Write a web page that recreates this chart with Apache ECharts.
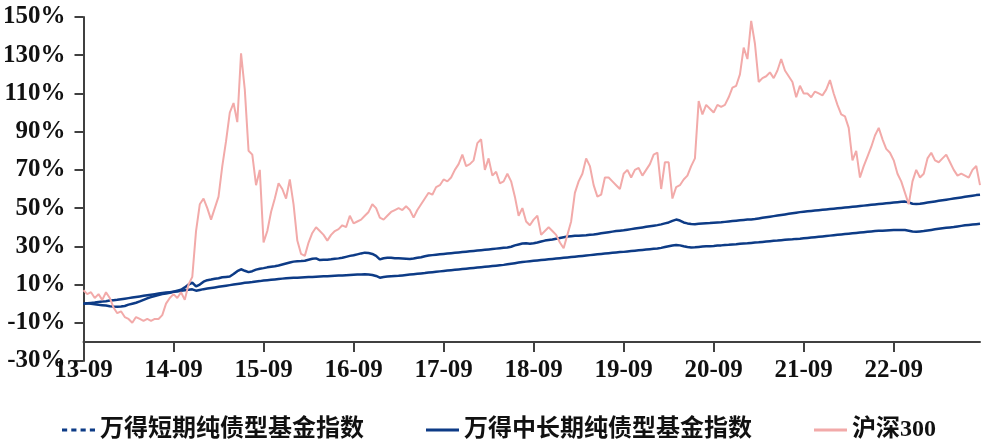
<!DOCTYPE html>
<html>
<head>
<meta charset="utf-8">
<script src="https://cdn.jsdelivr.net/npm/echarts@6/dist/echarts.min.js"></script>
<style>
html,body{margin:0;padding:0;background:#fff;}
#chart{width:989px;height:448px;}
</style>
</head>
<body>
<div id="chart"></div>
<script>
// Semi-monthly observations from 2013-09 to 2023-08
const seriesNames = ['万得短期纯债型基金指数', '万得中长期纯债型基金指数', '沪深300'];

const shortBond = [
  0,0.2,0.4,0.6,0.9,1.1,1.3,1.6,1.8,2,2.3,2.6,2.9,3.2,3.5,3.8,4.1,4.4,4.7,5,5.3,5.6,5.8,6,6.2,
  6.4,6.7,7,7.3,7.5,6.8,7.2,7.6,7.9,8.2,8.5,8.8,9.1,9.4,9.7,10,10.3,10.6,10.9,11.1,11.3,11.6,11.8,12.1,
  12.3,12.5,12.7,12.9,13.1,13.3,13.4,13.5,13.6,13.7,13.8,13.9,14,14.1,14.2,14.3,14.4,14.5,14.6,14.7,14.8,14.9,15,15.1,
  15.2,15.3,15.4,15.3,15,14.5,13.6,14,14.2,14.4,14.5,14.6,14.8,15,15.2,15.4,15.6,15.8,16,16.3,16.5,16.7,16.9,17.1,
  17.3,17.5,17.7,17.9,18.1,18.3,18.5,18.7,18.9,19.1,19.3,19.5,19.7,19.9,20.1,20.3,20.6,20.9,21.2,21.5,21.8,22,22.2,22.4,
  22.6,22.8,23,23.2,23.4,23.6,23.8,24,24.2,24.4,24.6,24.8,25,25.2,25.4,25.6,25.8,26,26.2,26.4,26.6,26.8,27,27.1,
  27.3,27.5,27.7,27.9,28.1,28.3,28.5,28.7,28.9,29.2,29.6,30,30.4,30.7,30.5,30,29.6,29.4,29.5,29.7,29.9,30,30.1,30.2,
  30.4,30.5,30.7,30.8,31,31.1,31.3,31.5,31.6,31.8,32,32.1,32.3,32.5,32.7,32.9,33,33.2,33.4,33.6,33.7,33.9,34,34.2,
  34.4,34.6,34.8,35,35.2,35.4,35.6,35.8,36,36.2,36.4,36.6,36.8,37,37.2,37.4,37.6,37.8,38,38.1,38.2,38.3,38.4,38.5,
  38.6,38.6,38.5,38.2,37.8,37.6,37.8,38,38.3,38.6,38.9,39.2,39.5,39.7,39.9,40.1,40.4,40.7,41,41.2,41.4,41.6,41.8
];

const midLongBond = [
  0,0.2,0,-0.3,-0.6,-0.8,-1,-1.3,-1.5,-1.6,-1.5,-1.2,-0.5,0,0.5,1.2,2,2.8,3.4,4,4.5,5,5.3,5.7,6.2,
  6.8,7.3,8.5,10,11,9,10,11.5,12.3,12.6,13,13.3,13.8,14,14.2,15.5,17,18,17.2,16.5,17,17.8,18.3,18.6,
  19,19.3,19.6,20,20.5,21,21.5,22,22.2,22.3,22.5,23,23.5,23.7,22.8,23,23,23.2,23.5,23.7,24,24.5,25,25.3,
  25.8,26.3,26.7,26.5,26,25,23.2,23.8,24,24,23.8,23.7,23.6,23.5,23.4,23.6,24,24.3,24.8,25.2,25.4,25.6,25.8,26,
  26.2,26.4,26.6,26.8,27,27.2,27.4,27.6,27.8,28,28.2,28.4,28.6,28.8,29,29.2,29.4,29.8,30.5,31,31.5,31.6,31.4,31.6,
  32,32.5,33,33.3,33.6,34,34.4,34.8,35.1,35.3,35.5,35.6,35.7,35.8,36,36.2,36.5,36.8,37.1,37.4,37.7,38,38.2,38.4,
  38.7,39,39.3,39.6,39.9,40.2,40.5,40.8,41.1,41.5,42,42.5,43.3,44,43.5,42.5,42,41.7,41.6,41.8,42,42.1,42.2,42.4,
  42.5,42.6,42.8,43,43.2,43.4,43.6,43.8,44,44.1,44.3,44.6,44.9,45.2,45.5,45.8,46.1,46.4,46.7,47,47.3,47.6,47.9,48.1,
  48.3,48.5,48.7,48.9,49.1,49.3,49.5,49.7,49.9,50.1,50.3,50.5,50.7,50.9,51.1,51.3,51.5,51.7,51.9,52.1,52.3,52.5,52.7,52.9,
  53.1,53.3,53.4,53,52.3,52.1,52.3,52.6,52.9,53.2,53.5,53.8,54.1,54.4,54.7,55,55.3,55.6,55.9,56.2,56.5,56.8,57
];

const csi300 = [
  7,5,6,3,5,2,6,3,-2,-5,-4,-7,-8,-10,-7,-8,-9,-8,-9,-8,-8,-6,0,3,5,
  3,6,2,10,14,38,52,55,50,44,50,56,72,85,100,105,95,131,112,80,78,62,70,32,
  38,48,55,63,60,55,65,52,33,26,25,32,37,40,38,36,33,36,38,39,41,40,46,42,
  43,44,46,48,52,50,45,44,46,48,49,50,49,51,49,45,49,52,55,58,57,61,62,65,
  64,66,70,73,78,72,73,75,84,86,70,76,67,69,63,64,68,64,56,46,50,43,41,44,
  46,36,38,40,38,36,32,29,36,43,58,64,68,76,72,62,56,57,66,66,64,62,60,68,
  70,66,70,71,67,70,73,78,79,60,74,74,55,61,62,65,67,72,76,106,99,104,102,100,
  104,103,104,108,113,114,120,134,128,148,136,116,118,119,121,118,122,128,122,119,116,108,114,110,
  110,108,111,110,109,112,117,110,104,99,98,92,75,80,66,72,77,82,88,92,86,81,79,75,
  68,64,58,52,64,70,66,68,76,79,75,74,76,78,74,70,67,68,67,66,70,72,62
];

// category labels: two per month (1st and 16th)
const categories = [];
for (let i = 0; i < csi300.length; i++) {
  const m = 8 + Math.floor(i / 2);
  const yy = 13 + Math.floor(m / 12);
  const mm = (m % 12) + 1;
  categories.push(yy + '-' + String(mm).padStart(2, '0') + '-' + (i % 2 ? '16' : '01'));
}

const chart = echarts.init(document.getElementById('chart'), null, {renderer: 'canvas'});
const serif = '"Liberation Serif", "Times New Roman", serif';
const axisColor = '#404040';
const blue = '#0d3b86';
const pink = '#f2aaa9';

chart.setOption({
  animation: false,
  backgroundColor: '#fff',
  grid: {left: 83, right: 9, top: 17, bottom: 87, containLabel: false},
  legend: {
    left: 57,
    top: 413,
    itemWidth: 33,
    itemHeight: 3,
    itemGap: 62,
    symbolKeepAspect: false,
    textStyle: {fontFamily: '"Liberation Serif", "Noto Sans CJK SC", serif', fontWeight: 'bold', fontSize: 24, color: '#111'},
    data: [
      {name: seriesNames[0], icon: 'path://M0,0h5v3h-5z M9,0h5v3h-5z M18,0h5v3h-5z M27,0h5v3h-5z'},
      {name: seriesNames[1], icon: 'rect'},
      {name: seriesNames[2], icon: 'rect'}
    ]
  },
  xAxis: {
    type: 'category',
    data: categories,
    boundaryGap: false,
    offset: -19,
    axisLine: {show: true, onZero: false, lineStyle: {color: axisColor, width: 2}},
    axisTick: {show: true, length: 10, interval: (i) => i % 24 === 0, lineStyle: {color: axisColor, width: 2}},
    axisLabel: {
      interval: (i) => i % 24 === 0,
      formatter: (v) => v.slice(0, 5),
      margin: 16,
      fontFamily: serif, fontWeight: 'bold', fontSize: 25, color: '#111'
    },
    splitLine: {show: false}
  },
  yAxis: {
    type: 'value',
    min: -30,
    max: 150,
    interval: 20,
    axisLine: {show: true, lineStyle: {color: axisColor, width: 2}},
    axisTick: {show: true, length: 9, lineStyle: {color: axisColor, width: 2}},
    axisLabel: {
      formatter: '{value}%',
      margin: 18,
      fontFamily: serif, fontWeight: 'bold', fontSize: 25, color: '#111'
    },
    splitLine: {show: false}
  },
  series: [
    {name: seriesNames[0], type: 'line', data: shortBond, symbol: 'none', showSymbol: false,
     itemStyle: {color: blue}, lineStyle: {color: blue, width: 2.5}},
    {name: seriesNames[1], type: 'line', data: midLongBond, symbol: 'none', showSymbol: false,
     itemStyle: {color: blue}, lineStyle: {color: blue, width: 2.5}},
    {name: seriesNames[2], type: 'line', data: csi300, symbol: 'none', showSymbol: false,
     itemStyle: {color: pink}, lineStyle: {color: pink, width: 2}}
  ]
});
</script>
</body>
</html>
